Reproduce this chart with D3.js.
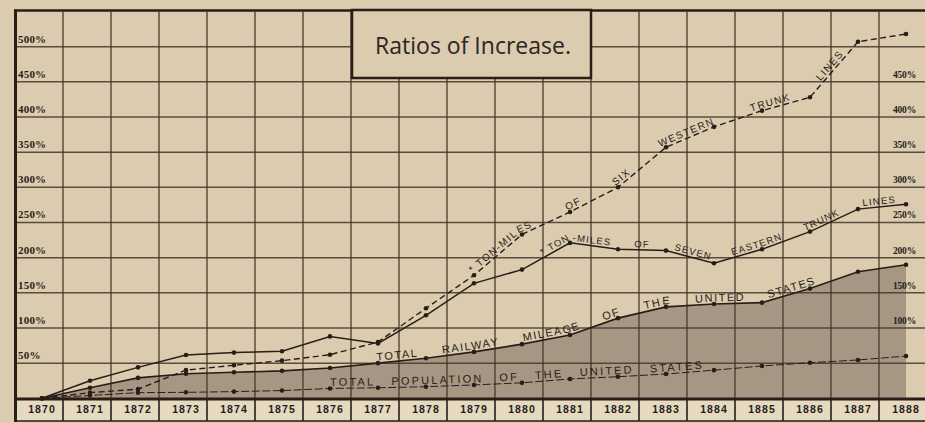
<!DOCTYPE html>
<html>
<head>
<meta charset="utf-8">
<script src="https://cdn.jsdelivr.net/npm/d3@7"></script>
<style>
  html, body { margin: 0; padding: 0; background: #dbcbaf; }
  svg { display: block; }
</style>
</head>
<body>
<svg id="chart" width="925" height="423"></svg>
<script>
// Ratios of increase over 1870, in percent
const years = [1870, 1871, 1872, 1873, 1874, 1875, 1876, 1877, 1878, 1879,
               1880, 1881, 1882, 1883, 1884, 1885, 1886, 1887, 1888];
const westernTonMiles = [0, 8, 13, 40, 47, 53.5, 62, 80, 128, 175, 233, 265, 300, 357, 386, 409, 428, 507, 518];
const easternTonMiles = [0, 25, 44, 61.5, 65, 67, 88, 78, 118, 163.5, 183, 221, 212, 210, 192, 212, 237, 269, 276];
const railwayMileage  = [0, 15, 29, 35, 37, 39, 43, 50, 57, 66, 77, 90, 114, 130, 134, 136, 156, 180, 190];
const population      = [0, 4, 8, 8.5, 9.5, 11, 14, 15, 16.5, 19, 22, 27.5, 30.7, 34.5, 40, 46, 50.6, 54.5, 60];
const leftTicks  = [50, 100, 150, 200, 250, 300, 350, 400, 450, 500];
const rightTicks = [100, 150, 200, 250, 300, 350, 400, 450];
const gridValues = [50, 100, 150, 200, 250, 300, 350, 400, 450, 500];
const titleText = "Ratios of Increase.";

const svg = d3.select("#chart");
const W = 925, H = 423;

const ink = "#281e17";
const gridInk = "#44362a";
const paper = "#dbcbaf";
const bandPaper = "#e6d9c2";
const shade = "#a69785";

const x = d3.scaleBand().domain(years).range([15, 15 + years.length * 48]).paddingInner(0).paddingOuter(0);
const y = d3.scaleLinear().domain([0, 550]).range([398.3, 11.5]);
const px = yr => x(yr) + x.bandwidth() / 2 + 3;
const pxFrac = yf => px(1870) + (yf - 1870) * x.step();

svg.append("rect").attr("width", W).attr("height", H).attr("fill", paper);

// shaded area beneath the railway mileage curve
const area = d3.area()
  .x((d, i) => px(years[i]))
  .y0(y(0))
  .y1(d => y(d));
svg.append("path").datum(railwayMileage).attr("d", area).attr("fill", shade);

// grid
const grid = svg.append("g").attr("stroke", gridInk).attr("stroke-width", 1.5).attr("stroke-opacity", 0.85);
grid.selectAll("line.h").data(gridValues).join("line")
  .attr("x1", 15).attr("x2", W).attr("y1", d => y(d)).attr("y2", d => y(d));
grid.selectAll("line.v").data(years.slice(1)).join("line")
  .attr("x1", d => x(d)).attr("x2", d => x(d)).attr("y1", y(550)).attr("y2", 421);

// year band along the bottom
svg.append("rect").attr("x", 15).attr("y", 400).attr("width", W - 15).attr("height", 20.5).attr("fill", bandPaper);
svg.append("g").selectAll("line").data(years.slice(1)).join("line")
  .attr("x1", d => x(d)).attr("x2", d => x(d)).attr("y1", 399).attr("y2", 421)
  .attr("stroke", ink).attr("stroke-width", 1.6);
const xAxis = svg.append("g").attr("transform", "translate(3,400)")
  .call(d3.axisBottom(x).tickSize(0).tickPadding(4).tickFormat(d3.format("d")));
xAxis.select(".domain").remove();
xAxis.selectAll("text")
  .attr("font-family", "Liberation Sans, Arial, sans-serif")
  .attr("font-weight", "bold").attr("font-size", 10.5)
  .attr("letter-spacing", 1.1).attr("fill", ink)
  .attr("dy", "0.85em");

// frame
svg.append("line").attr("x1", 15).attr("x2", W).attr("y1", 399).attr("y2", 399).attr("stroke", ink).attr("stroke-width", 3);
svg.append("line").attr("x1", 15).attr("x2", W).attr("y1", 421).attr("y2", 421).attr("stroke", ink).attr("stroke-width", 1.5);
svg.append("line").attr("x1", 14).attr("x2", W).attr("y1", y(550) - 1).attr("y2", y(550) - 1).attr("stroke", ink).attr("stroke-width", 2.5);
svg.append("line").attr("x1", 15.5).attr("x2", 15.5).attr("y1", y(550) - 2).attr("y2", 422).attr("stroke", ink).attr("stroke-width", 3);

// percent labels
const pctFmt = d => d + "%";
svg.append("g").selectAll("text").data(leftTicks).join("text")
  .attr("x", 18).attr("y", d => y(d) - 4)
  .attr("font-family", "Liberation Serif, serif").attr("font-weight", "bold")
  .attr("font-size", 11).attr("fill", ink).attr("letter-spacing", 0.2)
  .text(pctFmt);
svg.append("g").selectAll("text").data(rightTicks).join("text")
  .attr("x", 893).attr("y", d => y(d) - 4)
  .attr("font-family", "Liberation Serif, serif").attr("font-weight", "bold")
  .attr("font-size", 9.5).attr("fill", ink).attr("letter-spacing", -0.2)
  .text(pctFmt);

// series lines
const line = d3.line().x((d, i) => px(years[i])).y(d => y(d));
const series = [
  { id: "western", values: westernTonMiles, width: 1.4, dash: "6,3.5" },
  { id: "eastern", values: easternTonMiles, width: 1.5, dash: null },
  { id: "railway", values: railwayMileage, width: 1.6, dash: null },
  { id: "population", values: population, width: 1.0, dash: "8,2.5" }
];
series.forEach(s => {
  svg.append("path").datum(s.values).attr("id", "line-" + s.id)
    .attr("d", line).attr("fill", "none")
    .attr("stroke", ink).attr("stroke-width", s.width)
    .attr("stroke-dasharray", s.dash);
  svg.append("g").selectAll("circle").data(s.values).join("circle")
    .attr("cx", (d, i) => px(years[i])).attr("cy", d => y(d)).attr("r", 2.3)
    .attr("fill", ink);
});

// lettering set along each curve, words spread between the two years
const curveLabels = [
  { id: "western", text: "*\u00a0TON-MILES OF SIX WESTERN TRUNK LINES", from: 1879.0, to: 1886.75, size: 10, spacing: 1.4 },
  { id: "eastern", text: "*\u00a0TON-MILES OF SEVEN EASTERN TRUNK LINES", from: 1880.45, to: 1887.8, size: 9.5, spacing: 1.2 },
  { id: "railway", text: "TOTAL RAILWAY MILEAGE OF THE UNITED STATES", from: 1876.98, to: 1886.15, size: 11, spacing: 1.5 },
  { id: "population", text: "TOTAL POPULATION OF THE UNITED STATES", from: 1876.0, to: 1883.8, size: 11, spacing: 2.2 }
];
function lengthAtX(node, xt) {
  let lo = 0, hi = node.getTotalLength();
  for (let k = 0; k < 40; k++) {
    const mid = (lo + hi) / 2;
    if (node.getPointAtLength(mid).x < xt) lo = mid; else hi = mid;
  }
  return (lo + hi) / 2;
}
const labelFont = "Liberation Sans, Arial, sans-serif";
curveLabels.forEach(lab => {
  const node = document.getElementById("line-" + lab.id);
  const s0 = lengthAtX(node, pxFrac(lab.from));
  const s1 = lengthAtX(node, pxFrac(lab.to));
  const words = lab.text.split(" ");
  const probe = svg.append("text").attr("font-family", labelFont).attr("font-size", lab.size)
    .attr("letter-spacing", lab.spacing);
  const widths = words.map(w => { probe.text(w); return probe.node().getComputedTextLength(); });
  probe.remove();
  const total = d3.sum(widths);
  const gap = (s1 - s0 - total) / (words.length - 1);
  let off = s0;
  words.forEach((w, k) => {
    svg.append("text")
      .attr("font-family", labelFont).attr("font-size", lab.size)
      .attr("letter-spacing", lab.spacing).attr("fill", ink).attr("dy", -2.5)
      .append("textPath").attr("href", "#line-" + lab.id)
      .attr("startOffset", off).text(w);
    off += widths[k] + gap;
  });
});

// title panel
svg.append("rect").attr("x", 352).attr("y", 10).attr("width", 239).attr("height", 68)
  .attr("fill", paper).attr("stroke", ink).attr("stroke-width", 2.5);
svg.append("text").attr("x", 473).attr("y", 54).attr("text-anchor", "middle")
  .attr("font-family", "Open Sans, Liberation Sans, sans-serif").attr("font-size", 23)
  .attr("fill", "#2c2520").text(titleText);
</script>
</body>
</html>
